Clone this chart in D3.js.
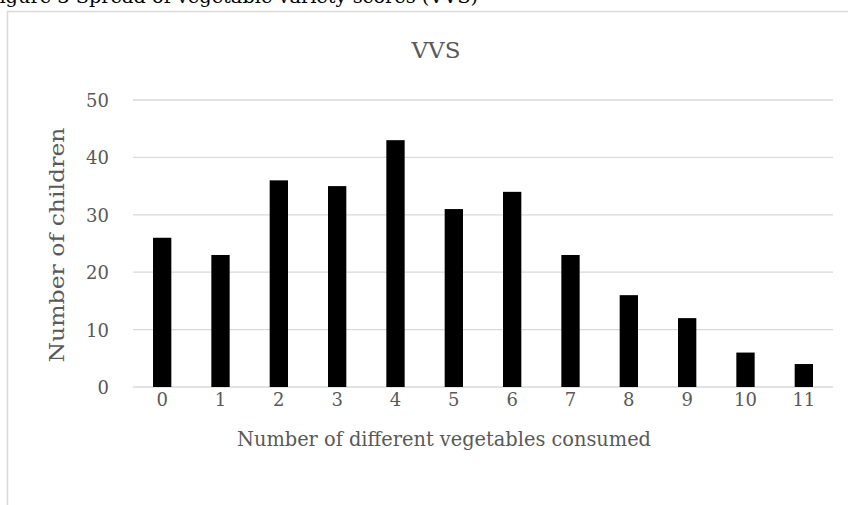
<!DOCTYPE html>
<html><head><meta charset="utf-8">
<script src="https://cdn.jsdelivr.net/npm/d3@7"></script>
<style>html,body{margin:0;padding:0;background:#fff;overflow:hidden}</style>
</head><body>
<svg id="c" width="848" height="505"></svg>
<script>
const categories = ["0","1","2","3","4","5","6","7","8","9","10","11"];
const values = [26,23,36,35,43,31,34,23,16,12,6,4];
const yTicks = [0,10,20,30,40,50];
const chartTitle = "VVS";
const xTitle = "Number of different vegetables consumed";
const yTitle = "Number of children";
const caption = "Figure 3 Spread of vegetable variety scores (VVS)";

const svg = d3.select("#c");
const font = "'DejaVu Serif', 'Liberation Serif', serif";
const grey = "#595959";

// caption (cut off at top, as in the source page)
svg.append("text").attr("x", -14).attr("y", 3).attr("font-family", font)
  .attr("font-size", 19).attr("fill", "#000")
  .attr("textLength", 492).attr("lengthAdjust", "spacingAndGlyphs").text(caption);

// chart border
svg.append("rect").attr("x", 7.5).attr("y", 11.5).attr("width", 900).attr("height", 600)
  .attr("fill", "#fff").attr("stroke", "#d9d9d9").attr("stroke-width", 1.5);

const x = d3.scaleBand().domain(categories).range([133, 833]).paddingInner(0.686).paddingOuter(0.343);
const y = d3.scaleLinear().domain([0, 50]).range([387, 100]);

// gridlines
svg.append("g").selectAll("line").data(yTicks).join("line")
  .attr("x1", 133).attr("x2", 833).attr("y1", d => y(d)).attr("y2", d => y(d))
  .attr("stroke", "#d9d9d9").attr("stroke-width", 1.3);

// bars
svg.append("g").selectAll("rect").data(values).join("rect")
  .attr("x", (d, i) => x(categories[i])).attr("width", x.bandwidth())
  .attr("y", d => y(d)).attr("height", d => y(0) - y(d)).attr("fill", "#000");

// y axis labels
const yAxis = d3.axisLeft(y).tickValues(yTicks).tickSize(0).tickPadding(0);
const gy = svg.append("g").attr("transform", "translate(109,0)").call(yAxis);
gy.select(".domain").remove();
gy.selectAll("text").attr("font-family", font).attr("font-size", 18).attr("fill", grey).attr("dy", "0.36em");

// x axis labels
const xAxis = d3.axisBottom(x).tickSize(0).tickPadding(0);
const gx = svg.append("g").attr("transform", "translate(0,392)").call(xAxis);
gx.select(".domain").remove();
gx.selectAll("text").attr("font-family", font).attr("font-size", 18).attr("fill", grey).attr("dy", "0.78em");

// chart title
svg.append("text").attr("x", 436).attr("y", 58).attr("text-anchor", "middle")
  .attr("font-family", font).attr("font-size", 23).attr("fill", grey).text(chartTitle);

// x title
svg.append("text").attr("x", 444).attr("y", 446).attr("text-anchor", "middle")
  .attr("font-family", font).attr("font-size", 20).attr("fill", grey)
  .attr("textLength", 414).attr("lengthAdjust", "spacingAndGlyphs").text(xTitle);

// y title
svg.append("text").attr("transform", "translate(64,245) rotate(-90)").attr("text-anchor", "middle")
  .attr("font-family", font).attr("font-size", 20).attr("fill", grey)
  .attr("textLength", 235).attr("lengthAdjust", "spacingAndGlyphs").text(yTitle);
</script>
</body></html>
